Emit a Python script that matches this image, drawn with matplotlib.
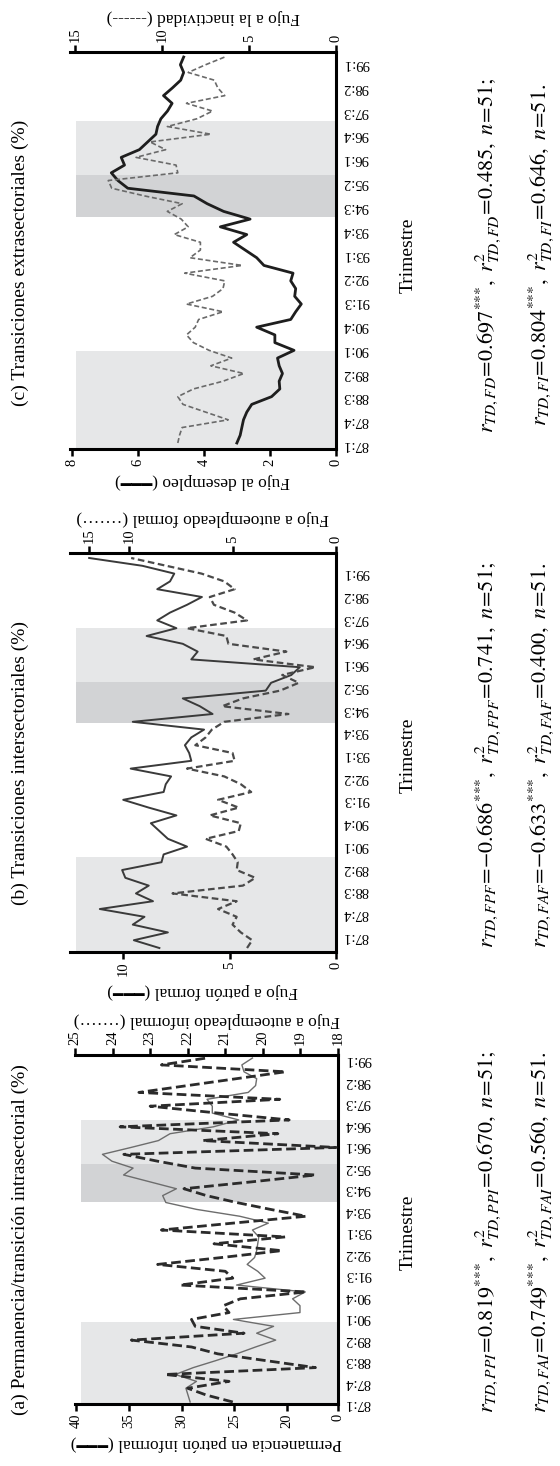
import numpy as np
import matplotlib
matplotlib.use("Agg")
import matplotlib.pyplot as plt

plt.rcParams['font.family'] = ['Liberation Serif', 'DejaVu Sans']
plt.rcParams['mathtext.fontset'] = 'stix'

# quarters 87:1 ... (51 observations)
quarter_labels = ["87:1", "87:4", "88:3", "89:2", "90:1", "90:4", "91:3", "92:2", "93:1",
                  "93:4", "94:3", "95:2", "96:1", "96:4", "97:3", "98:2", "99:1"]
t = np.arange(51)

# (a) permanencia / transicion intrasectorial
a_permanencia = [29.2, 29.4, 29.6, 28.6, 30.6, 28.9, 26.8, 24.8, 23.0, 21.1,
                 22.9, 21.3, 25.1, 18.8, 18.8, 19.5, 18.3, 24.8, 22.1, 22.8,
                 23.8, 23.1, 22.9, 22.8, 22.7, 23.3, 21.8, 24.5, 28.6, 31.5,
                 31.8, 30.5, 33.0, 35.5, 34.6, 36.6, 37.5, 34.8, 32.2, 31.1,
                 27.0, 24.6, 27.1, 27.1, 27.6, 23.7, 23.0, 22.9, 24.1, 24.3, 23.3]
a_autoempleo = [20.8, 21.5, 22.0, 20.9, 22.6, 18.6, 19.9, 21.2, 21.9, 23.5,
                20.5, 21.8, 21.9, 20.9, 21.05, 20.6, 18.85, 22.2, 20.8, 21.0,
                22.8, 21.1, 19.5, 21.3, 19.4, 22.7, 20.8, 18.85, 19.8, 20.7,
                21.5, 22.1, 20.3, 18.6, 21.8, 22.8, 23.7, 18.05, 21.6, 19.6,
                23.8, 19.3, 21.2, 23.0, 19.55, 23.3, 22.0, 20.7, 19.4, 22.7, 21.5]

# (b) transiciones intersectoriales
b_patron = [8.3, 9.5, 7.9, 9.55, 9.0, 11.1, 8.6, 9.4, 8.8, 9.9,
            10.05, 8.2, 8.1, 7.0, 7.9, 8.3, 8.7, 7.5, 8.8, 10.0,
            8.1, 8.0, 7.75, 9.65, 6.8, 6.9, 7.1, 6.8, 6.2, 9.55,
            5.8, 6.4, 7.2, 3.3, 3.05, 2.1, 1.7, 6.8, 6.5, 7.2,
            8.9, 7.5, 8.4, 7.8, 7.0, 6.3, 8.4, 7.8, 7.6, 9.1, 11.6]
b_autoempleo = [4.3, 4.05, 4.6, 5.0, 4.8, 5.7, 4.8, 7.9, 4.5, 3.9,
                4.8, 4.75, 5.0, 5.3, 6.3, 4.7, 4.6, 6.1, 4.7, 5.7,
                4.1, 4.6, 5.4, 7.2, 4.9, 5.0, 6.8, 6.3, 6.0, 5.4,
                2.3, 5.5, 4.5, 2.7, 1.8, 2.6, 1.0, 4.0, 2.4, 5.2,
                5.3, 7.2, 4.3, 4.9, 5.9, 6.1, 4.9, 5.4, 6.5, 8.2, 9.9]

# (c) transiciones extrasectoriales
c_desempleo = [3.0, 2.9, 2.85, 2.8, 2.7, 2.55, 1.95, 1.7, 1.72, 1.62,
               1.72, 1.77, 1.27, 1.85, 1.85, 2.4, 1.37, 1.22, 1.05, 1.25,
               1.22, 1.37, 1.3, 2.18, 2.4, 2.75, 3.1, 2.7, 3.5, 2.6,
               3.4, 3.9, 4.3, 6.3, 6.6, 6.8, 6.4, 6.5, 5.95, 5.7,
               5.45, 5.4, 5.3, 5.1, 4.96, 5.22, 4.95, 4.7, 4.61, 4.71, 4.61]
c_inactividad = [9.1, 9.0, 8.85, 6.2, 7.5, 8.8, 9.1, 8.2, 6.5, 5.3,
                 7.2, 6.0, 7.3, 8.2, 8.6, 8.1, 7.9, 6.5, 8.6, 7.1,
                 6.5, 6.4, 8.7, 5.4, 8.4, 7.8, 7.8, 9.3, 8.5, 8.9,
                 9.7, 8.85, 11.0, 12.9, 13.1, 9.1, 9.2, 11.5, 9.8, 10.7,
                 7.2, 9.7, 8.0, 7.1, 8.6, 6.4, 6.8, 7.0, 8.5, 7.5, 6.4]

titles = ["(a) Permanencia/transición intrasectorial (%)",
          "(b) Transiciones intersectoriales (%)",
          "(c) Transiciones extrasectoriales (%)"]
stars = r"^{{*}{*}{*}}"
stats = [
    [r"$r_{TD,PPI}\!=\!0.819" + stars + r",\ r^{2}_{TD,PPI}\!=\!0.670,\ n\!=\!51;$",
     r"$r_{TD,FAI}\!=\!0.749" + stars + r",\ r^{2}_{TD,FAI}\!=\!0.560,\ n\!=\!51.$"],
    [r"$r_{TD,FPF}\!=\!{-}0.686" + stars + r",\ r^{2}_{TD,FPF}\!=\!0.741,\ n\!=\!51;$",
     r"$r_{TD,FAF}\!=\!{-}0.633" + stars + r",\ r^{2}_{TD,FAF}\!=\!0.400,\ n\!=\!51.$"],
    [r"$r_{TD,FD}\!=\!0.697" + stars + r",\ r^{2}_{TD,FD}\!=\!0.485,\ n\!=\!51;$",
     r"$r_{TD,FI}\!=\!0.804" + stars + r",\ r^{2}_{TD,FI}\!=\!0.646,\ n\!=\!51.$"],
]

BAR = "\u2501\u2501\u2501"
DOTS = "\u00b7\u00b7\u00b7\u00b7\u00b7\u00b7\u00b7"

W, H = 560, 1466
fig = plt.figure(figsize=(W / 100, H / 100), dpi=100)
LIGHT, DARK = '#e6e7e8', '#d2d3d5'


def box(x0, y0, x1, y1):
    # pixel box (from top-left) -> figure fraction
    return [x0 / W, 1 - y1 / H, (x1 - x0) / W, (y1 - y0) / H]


def compress_fwd(v):
    v = np.asarray(v, dtype=float)
    return np.where(v <= 10, v, 10 + (v - 10) * 0.386)


def compress_inv(u):
    u = np.asarray(u, dtype=float)
    return np.where(u <= 10, u, 10 + (u - 10) / 0.386)


def panel(rect, solid, dashed, ylim, tickpos, shades,
          bot_lim, bot_ticks, bot_labels, bot_label,
          top_lim, top_ticks, top_label, solid_style, dashed_style, top_scale=None):
    ax = fig.add_axes(rect)
    ax.set_ylim(*ylim)
    b1, d0, d1, l1 = shades
    ax.axhspan(ylim[0], b1, xmin=0.022, xmax=1, color=LIGHT, lw=0, zorder=0)
    ax.axhspan(d0, d1, xmin=0.022, xmax=1, color=DARK, lw=0, zorder=0)
    ax.axhspan(d1, l1, xmin=0.022, xmax=1, color=LIGHT, lw=0, zorder=0)
    ax.plot(solid, t, zorder=3, **solid_style)
    ax.set_xlim(*bot_lim)
    ax.set_xticks(bot_ticks, bot_labels)
    ax.yaxis.tick_right()
    ax.set_yticks(tickpos, quarter_labels)
    ax.tick_params(axis='y', length=0, pad=5, labelrotation=180, labelsize=10.5)
    ax.tick_params(axis='x', direction='out', length=5, width=1.8, pad=2,
                   labelrotation=90, labelsize=10.5)
    ax.set_xlabel(bot_label, rotation=180, fontsize=12.5, labelpad=5)
    for s in ['left', 'top']:
        ax.spines[s].set_visible(False)
    for s in ['right', 'bottom']:
        ax.spines[s].set_linewidth(2.2)

    tw = ax.twiny()
    if top_scale is not None:
        tw.set_xscale('function', functions=top_scale)
    tw.plot(dashed, t, zorder=3, **dashed_style)
    tw.set_xlim(*top_lim)
    tw.set_xticks(top_ticks)
    tw.set_ylim(*ylim)
    tw.tick_params(axis='x', direction='out', length=5, width=1.8, pad=2,
                   labelrotation=90, labelsize=10.5)
    tw.set_xlabel(top_label, rotation=180, fontsize=12.5, labelpad=5)
    for s in ['left', 'right', 'bottom']:
        tw.spines[s].set_visible(False)
    tw.spines['top'].set_linewidth(2.2)
    return ax


# (c)
panel(box(70, 52, 336, 449), c_desempleo, c_inactividad,
      (-0.78, 50.65), np.linspace(0, 49.35, 17), (11.9, 29.3, 34.7, 41.7),
      (8.05, 0), [0, 2, 4, 6, 8], ['0', '2', '4', '6', '8'],
      "Fujo al desempleo (" + BAR + ")",
      (15.3, 0), [0, 5, 10, 15], "Fujo a la inactividad (------)",
      dict(color='#1e1e1e', lw=2.0),
      dict(color='#6a6a6a', lw=1.2, dashes=(3, 1.6)))

# (b)
panel(box(70, 553, 336, 952), b_patron, b_autoempleo,
      (-0.51, 50.64), np.linspace(1.7, 48.3, 17), (11.7, 28.8, 34.1, 41.0),
      (12.5, 0), [0, 5, 10], ['0', '5', '10'],
      "Fujo a patrón formal (" + BAR + ")",
      (17.4, 0), [0, 5, 10, 15], "Fujo a autoempleado formal (" + DOTS + ")",
      dict(color='#3a3a3a', lw=1.4),
      dict(color='#4a4a4a', lw=1.6, dashes=(3, 1.6)),
      top_scale=(compress_fwd, compress_inv))

# (a)
panel(box(75, 1055, 338, 1404), a_permanencia, a_autoempleo,
      (-0.29, 50.44), np.linspace(0, 50, 17), (11.6, 29.1, 34.6, 41.0),
      (40.1, 15.2), [15.2, 20, 25, 30, 35, 40], ['0', '20', '25', '30', '35', '40'],
      "Permanencia en patrón informal (" + BAR + ")",
      (25, 18), [18, 19, 20, 21, 22, 23, 24, 25],
      "Fujo a autoempleado informal (" + DOTS + ")",
      dict(color='#6d6d6d', lw=1.0),
      dict(color='#2b2b2b', lw=2.0, dashes=(3.5, 1.6)))

centres = [1232, 755, 255]
for i in range(3):
    yc = 1 - centres[i] / H
    fig.text(20 / W, 1 - (centres[i] + 8) / H, titles[i], rotation=90,
             ha='center', va='center', fontsize=14)
    fig.text(408 / W, yc, "Trimestre", rotation=90, ha='center', va='center', fontsize=14)
    fig.text(488 / W, yc, stats[i][0], rotation=90, ha='center', va='center', fontsize=16)
    fig.text(541 / W, yc, stats[i][1], rotation=90, ha='center', va='center', fontsize=16)

fig.savefig("out.png", dpi=100)
